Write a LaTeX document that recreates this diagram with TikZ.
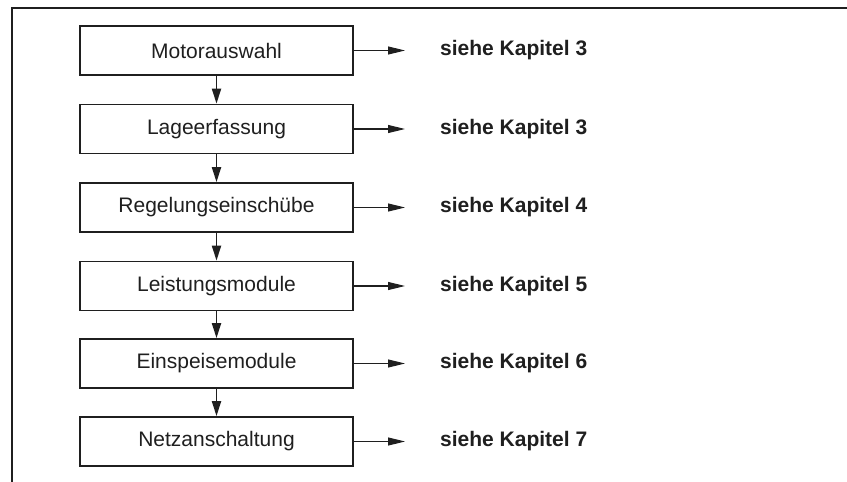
\documentclass[tikz,border=0pt]{standalone}
\usepackage{fontspec}
\setmainfont{Liberation Sans}
\usetikzlibrary{arrows.meta}
\tikzset{
    BOX/.style ={rectangle,minimum width = 273pt, minimum height = 49pt, draw, line width=1.7pt, inner sep=0pt, font=\fontsize{21}{25}\selectfont},
    KAP/.style ={anchor=west, inner sep=0pt, font=\fontsize{21}{25}\selectfont\bfseries},
    DN/.style={-{Triangle[length=15pt,width=9pt]}, line width=1.9pt},
    RT/.style={-{Triangle[length=17pt,width=8pt]}, line width=1.1pt, shorten >=35pt}}

\begin{document}
\begin{tikzpicture}[x=1pt,y=-1pt,color={black!88}]
        \useasboundingbox (0,0) rectangle (847,482);
        \draw[line width=1.7pt] (12,482) -- (12,8) -- (847,8);
        \node[BOX] (m1) at(216.5,50.5){Motorauswahl};
        \node[BOX] (m2) at(216.5,129){Lageerfassung};
        \node[BOX] (m3) at(216.5,207.5){Regelungseinschübe};
        \node[BOX] (m4) at(216.5,286){Leistungsmodule};
        \node[BOX] (m5) at(216.5,363.5){Einspeisemodule};
        \node[BOX] (m6) at(216.5,441.5){Netzanschaltung};
        \node[KAP] (k1) at(440,50.5){siehe Kapitel 3};
        \node[KAP] (k2) at(440,129){siehe Kapitel 3};
        \node[KAP] (k3) at(440,207.5){siehe Kapitel 4};
        \node[KAP] (k4) at(440,286){siehe Kapitel 5};
        \node[KAP] (k5) at(440,363.5){siehe Kapitel 6};
        \node[KAP] (k6) at(440,441.5){siehe Kapitel 7};
        \draw[DN] (m1) -- (m2);
        \draw[DN] (m2) -- (m3);
        \draw[DN] (m3) -- (m4);
        \draw[DN] (m4) -- (m5);
        \draw[DN] (m5) -- (m6);
        \draw[RT] (m1.east) -- (k1.west);
        \draw[RT] (m2.east) -- (k2.west);
        \draw[RT] (m3.east) -- (k3.west);
        \draw[RT] (m4.east) -- (k4.west);
        \draw[RT] (m5.east) -- (k5.west);
        \draw[RT] (m6.east) -- (k6.west);
    \end{tikzpicture}
\end{document}
